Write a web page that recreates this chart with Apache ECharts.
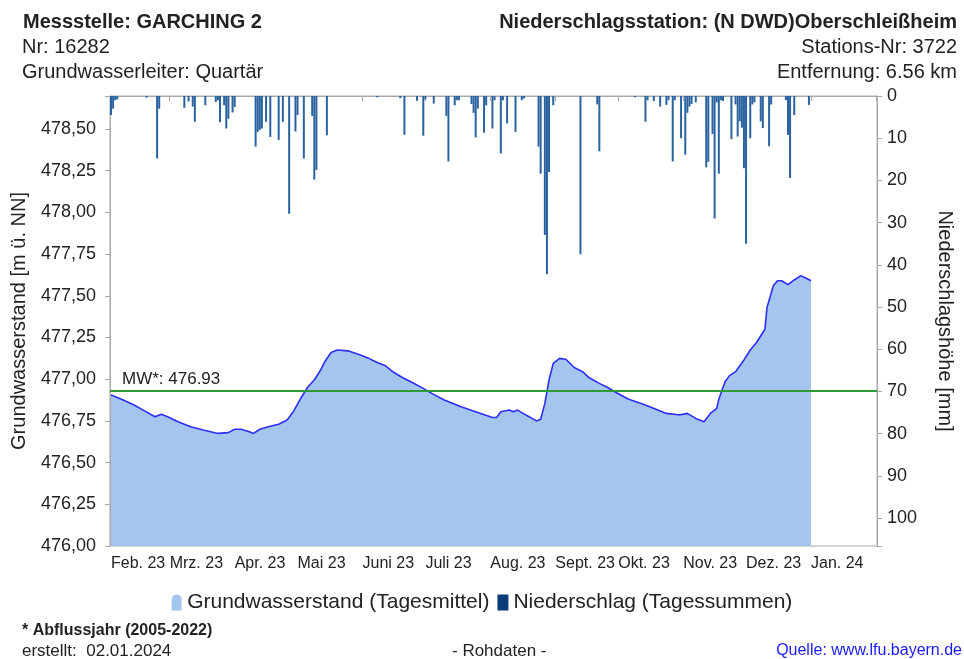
<!DOCTYPE html>
<html>
<head>
<meta charset="utf-8">
<script src="https://cdn.jsdelivr.net/npm/echarts@6/dist/echarts.min.js"></script>
<style>
html, body { margin: 0; padding: 0; background: #fff; }
#chart { width: 964px; height: 659px; }
</style>
</head>
<body>
<div id="chart"></div>
<script>
// Grundwasserstand (Tagesmittel) in m ü. NN
const gwDates = [
  '2023-02-01', '2023-02-06', '2023-02-12', '2023-02-17', '2023-02-22', '2023-02-25', '2023-02-28',
  '2023-03-05', '2023-03-11', '2023-03-17', '2023-03-24', '2023-03-29',
  '2023-04-01', '2023-04-04', '2023-04-08', '2023-04-10', '2023-04-13', '2023-04-17', '2023-04-22', '2023-04-26', '2023-04-29',
  '2023-05-03', '2023-05-06', '2023-05-09', '2023-05-12', '2023-05-14', '2023-05-17', '2023-05-20', '2023-05-25', '2023-05-30',
  '2023-06-04', '2023-06-08', '2023-06-12', '2023-06-16', '2023-06-20', '2023-06-24', '2023-06-30',
  '2023-07-04', '2023-07-10', '2023-07-18', '2023-07-26',
  '2023-08-02', '2023-08-04', '2023-08-06', '2023-08-10', '2023-08-12', '2023-08-14', '2023-08-18', '2023-08-23', '2023-08-25', '2023-08-27', '2023-08-29', '2023-08-31',
  '2023-09-03', '2023-09-06', '2023-09-10', '2023-09-14', '2023-09-17', '2023-09-22', '2023-09-26', '2023-09-30',
  '2023-10-06', '2023-10-13', '2023-10-19', '2023-10-24', '2023-10-28', '2023-10-30',
  '2023-11-03', '2023-11-07', '2023-11-11', '2023-11-14', '2023-11-17', '2023-11-18', '2023-11-21', '2023-11-23', '2023-11-26', '2023-11-30',
  '2023-12-03', '2023-12-06', '2023-12-09', '2023-12-10', '2023-12-11', '2023-12-14', '2023-12-16', '2023-12-18', '2023-12-21', '2023-12-24', '2023-12-27', '2023-12-29',
  '2024-01-01'
];
const gwValues = [
  476.905, 476.88, 476.845, 476.81, 476.775, 476.79, 476.775,
  476.745, 476.715, 476.695, 476.675, 476.68,
  476.70, 476.70, 476.685, 476.675, 476.70, 476.715, 476.73, 476.755, 476.805,
  476.895, 476.955, 476.995, 477.055, 477.105, 477.16, 477.175, 477.17, 477.15,
  477.125, 477.10, 477.08, 477.04, 477.01, 476.985, 476.945,
  476.915, 476.875, 476.835, 476.80,
  476.77, 476.77, 476.805, 476.815, 476.805, 476.815, 476.785, 476.75, 476.76, 476.855, 476.995, 477.095,
  477.125, 477.12, 477.07, 477.045, 477.01, 476.975, 476.95, 476.92,
  476.88, 476.85, 476.82, 476.795, 476.79, 476.785,
  476.795, 476.765, 476.745, 476.795, 476.825, 476.88, 476.985, 477.02, 477.045, 477.115,
  477.175, 477.22, 477.28, 477.30, 477.43, 477.56, 477.59, 477.59, 477.567, 477.595, 477.62, 477.61,
  477.59
];

// Niederschlag (Tagessummen) in mm
const rainDates = [
  '2023-02-01', '2023-02-02', '2023-02-03', '2023-02-04', '2023-02-18', '2023-02-23', '2023-02-24',
  '2023-03-08', '2023-03-10', '2023-03-12', '2023-03-13', '2023-03-18', '2023-03-23', '2023-03-24', '2023-03-25', '2023-03-27', '2023-03-28', '2023-03-29', '2023-03-31',
  '2023-04-01', '2023-04-11', '2023-04-12', '2023-04-13', '2023-04-14', '2023-04-16', '2023-04-18', '2023-04-22', '2023-04-24', '2023-04-27', '2023-04-30',
  '2023-05-01', '2023-05-04', '2023-05-08', '2023-05-09', '2023-05-10', '2023-05-15',
  '2023-06-08', '2023-06-19', '2023-06-21', '2023-06-27', '2023-06-30',
  '2023-07-01', '2023-07-05', '2023-07-11', '2023-07-12', '2023-07-15', '2023-07-16', '2023-07-17', '2023-07-23', '2023-07-24', '2023-07-25', '2023-07-26', '2023-07-29', '2023-07-30',
  '2023-08-02', '2023-08-03', '2023-08-06', '2023-08-07', '2023-08-09', '2023-08-13', '2023-08-16', '2023-08-17', '2023-08-24', '2023-08-25', '2023-08-27', '2023-08-28', '2023-08-29', '2023-08-31',
  '2023-09-13', '2023-09-21', '2023-09-22',
  '2023-10-09', '2023-10-14', '2023-10-15', '2023-10-18', '2023-10-21', '2023-10-24', '2023-10-25', '2023-10-27', '2023-10-28', '2023-10-31',
  '2023-11-02', '2023-11-03', '2023-11-04', '2023-11-05', '2023-11-07', '2023-11-12', '2023-11-13', '2023-11-15', '2023-11-16', '2023-11-17', '2023-11-18', '2023-11-19', '2023-11-20', '2023-11-24', '2023-11-26', '2023-11-27', '2023-11-28', '2023-11-29', '2023-11-30',
  '2023-12-01', '2023-12-03', '2023-12-04', '2023-12-05', '2023-12-08', '2023-12-09', '2023-12-12', '2023-12-13', '2023-12-20', '2023-12-21', '2023-12-22', '2023-12-24', '2023-12-31'
];
const rainValues = [
  4.5, 3, 1, 0.8, 0.4, 14.8, 3,
  2.8, 1.3, 2.5, 6.1, 2.2, 1.4, 1, 6.2, 2.2, 7.7, 5.4, 3.9,
  2.6, 12, 8.5, 8, 7.7, 6.1, 9.7, 10.4, 6.1, 27.9, 8.4,
  4.5, 14.8, 4.7, 19.8, 17.5, 9.3,
  0.3, 0.5, 9.2, 1.1, 9.4,
  0.8, 1.8, 4.7, 15.5, 2.2, 1, 1, 1.9, 4, 9.8, 3, 8.7, 2.2,
  7.7, 1, 13.6, 1, 6.5, 8.5, 1, 0.6, 12, 18.4, 32.9, 42.2, 18, 2.2,
  37.5, 2, 13.1,
  0.3, 6.1, 1, 1.2, 2.5, 2.1, 1, 15.5, 1, 10,
  13.9, 4, 2.5, 1.9, 1.5, 16.9, 15.6, 9, 29, 1.5, 18.4, 1, 1.2, 10.2, 2, 9.6, 6, 7.5, 17.1,
  35, 10, 2, 1.5, 6, 7.6, 11.9, 2, 1, 9.2, 19.4, 4.5, 2.1
];

const monthLabels = ['Jan.', 'Feb.', 'Mrz.', 'Apr.', 'Mai', 'Juni', 'Juli', 'Aug.', 'Sept.', 'Okt.', 'Nov.', 'Dez.'];
const mittelwert = 476.93;
const xStart = '2023-02-01';
const xEnd = '2024-02-01';

const FONT = '"Liberation Sans", Arial, sans-serif';

let chart = echarts.init(document.getElementById('chart'));

// Kopf- und Fußzeilen
function label(text, pos, size, weight, color) {
  return Object.assign({ text: text, padding: 0, textStyle: { fontSize: size, fontWeight: weight, color: color || '#222' } }, pos);
}

chart.setOption({
  animation: false,
  textStyle: { fontFamily: FONT },
  title: [
    label('Messstelle: GARCHING 2', { left: 23, top: 12 }, 20, 'bold'),
    label('Nr: 16282', { left: 22, top: 37 }, 20, 'normal'),
    label('Grundwasserleiter: Quartär', { left: 22, top: 62 }, 20, 'normal'),
    label('Niederschlagsstation: (N DWD)Oberschleißheim', { right: 7, top: 12 }, 20, 'bold'),
    label('Stations-Nr: 3722', { right: 7, top: 37 }, 20, 'normal'),
    label('Entfernung: 6.56 km', { right: 7, top: 62 }, 20, 'normal'),
    label('* Abflussjahr (2005-2022)', { left: 22, top: 623 }, 16, 'bold'),
    label('erstellt:  02.01.2024', { left: 22, top: 643 }, 17, 'normal'),
    label('- Rohdaten -', { left: 452, top: 643 }, 17, 'normal'),
    label('Quelle: www.lfu.bayern.de', { right: 2, top: 643 }, 16, 'normal', '#1a1aff')
  ],
  legend: {
    top: 587,
    left: 'center',
    itemGap: 8,
    itemWidth: 11,
    itemHeight: 16,
    textStyle: { fontSize: 21, color: '#222' },
    data: [
      { name: 'Grundwasserstand (Tagesmittel)', icon: 'path://M0,16 L0,6 Q0,0 5,0 Q10,0 10,6 L10,16 Z', itemStyle: { color: '#A4C6EE' } },
      { name: 'Niederschlag (Tagessummen)', icon: 'rect', itemStyle: { color: '#0B3B78' } }
    ]
  },
  grid: {
    left: 110, right: 87, top: 96, bottom: 113,
    outerBoundsMode: 'none',
    show: true, borderColor: '#A8A8A8', borderWidth: 1
  },
  xAxis: {
    type: 'time',
    min: xStart,
    max: xEnd,
    splitNumber: 12,
    minInterval: 28 * 86400000,
    maxInterval: 31 * 86400000,
    axisLine: { lineStyle: { color: '#A8A8A8' } },
    axisTick: { show: true, length: 5, lineStyle: { color: '#A8A8A8' } },
    splitLine: { show: false },
    axisLabel: {
      align: 'left',
      margin: 10,
      fontSize: 16,
      color: '#222',
      hideOverlap: false,
      formatter: function (value) {
        const d = new Date(value);
        if (d.getTime() >= new Date(2024, 1, 1).getTime()) return '';
        return monthLabels[d.getMonth()] + ' ' + String(d.getFullYear()).slice(2);
      }
    }
  },
  yAxis: [
    {
      type: 'value',
      min: 476,
      max: 478.698,
      interval: 0.25,
      name: 'Grundwasserstand [m ü. NN]',
      nameLocation: 'middle',
      nameGap: 81,
      nameTextStyle: { fontSize: 20, color: '#222' },
      axisLine: { show: true, lineStyle: { color: '#A8A8A8' } },
      axisTick: { show: true, length: 5, lineStyle: { color: '#A8A8A8' } },
      splitLine: { show: false },
      axisLabel: {
        fontSize: 18,
        color: '#222',
        margin: 14,
        formatter: function (v) {
          if (Math.abs(v * 4 - Math.round(v * 4)) > 1e-6) return '';
          return v.toFixed(2).replace('.', ',');
        }
      }
    },
    {
      type: 'value',
      inverse: true,
      min: 0,
      max: 106.6,
      interval: 10,
      position: 'right',
      name: 'Niederschlagshöhe [mm]',
      nameLocation: 'middle',
      nameGap: 58,
      nameRotate: -90,
      nameTextStyle: { fontSize: 20, color: '#222' },
      axisLine: { show: true, lineStyle: { color: '#A8A8A8' } },
      axisTick: { show: true, length: 5, lineStyle: { color: '#A8A8A8' } },
      splitLine: { show: false },
      axisLabel: {
        fontSize: 18,
        color: '#222',
        margin: 10,
        formatter: function (v) {
          if (v % 10 !== 0) return '';
          return String(v);
        }
      }
    }
  ],
  series: [
    {
      name: 'Grundwasserstand (Tagesmittel)',
      type: 'line',
      yAxisIndex: 0,
      showSymbol: false,
      data: gwDates.map((d, i) => [d, gwValues[i]]),
      lineStyle: { color: '#2E2EF2', width: 1.6 },
      itemStyle: { color: '#A4C6EE' },
      areaStyle: { color: '#A4C6EE', opacity: 1, origin: 'start' },
      markLine: {
        silent: true,
        symbol: 'none',
        data: [{ yAxis: mittelwert }],
        lineStyle: { color: '#2E9A35', width: 2, type: 'solid' },
        label: {
          position: 'insideStartTop',
          formatter: 'MW*: 476.93',
          fontSize: 17,
          color: '#222',
          distance: [12, 3]
        }
      },
      z: 2
    },
    {
      name: 'Niederschlag (Tagessummen)',
      type: 'bar',
      yAxisIndex: 1,
      barWidth: 2,
      data: rainDates.map((d, i) => [d, rainValues[i]]),
      itemStyle: { color: '#2A62A0' },
      z: 3
    }
  ]
});
</script>
</body>
</html>
